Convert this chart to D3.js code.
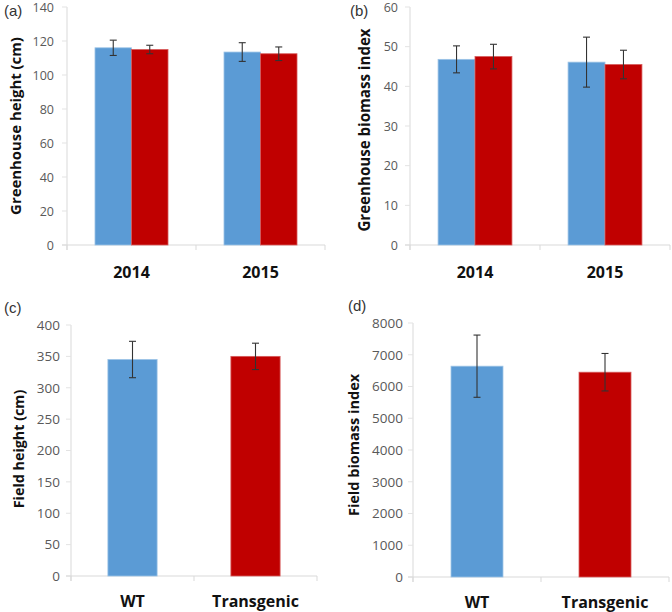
<!DOCTYPE html>
<html>
<head>
<meta charset="utf-8">
<script src="https://cdn.jsdelivr.net/npm/d3@7"></script>
<style>
  html, body { margin: 0; padding: 0; background: #fff; }
  svg { display: block; }
</style>
</head>
<body>
<svg id="chart" width="672" height="612"></svg>
<script>
// ---- Data ----
const years = ["2014", "2015"];
const genotypes = ["WT", "Transgenic"];

const ghHeightWT = [116, 113.5];
const ghHeightWTErr = [4.5, 5.5];
const ghHeightTG = [115, 112.5];
const ghHeightTGErr = [2.5, 4];
const ghHeightTicks = [0, 20, 40, 60, 80, 100, 120, 140];

const ghBiomassWT = [46.8, 46.1];
const ghBiomassWTErr = [3.4, 6.3];
const ghBiomassTG = [47.5, 45.5];
const ghBiomassTGErr = [3.1, 3.6];
const ghBiomassTicks = [0, 10, 20, 30, 40, 50, 60];

const fieldHeight = [345, 350];
const fieldHeightErr = [29, 21];
const fieldHeightTicks = [0, 50, 100, 150, 200, 250, 300, 350, 400];

const fieldBiomass = [6640, 6450];
const fieldBiomassErr = [980, 590];
const fieldBiomassTicks = [0, 1000, 2000, 3000, 4000, 5000, 6000, 7000, 8000];

const colors = { WT: "#5B9BD5", Transgenic: "#C00000" };
const strokes = { WT: "#9CC3E6", Transgenic: "#D65A5A" };

const svg = d3.select("#chart");
const FONT = "'Open Sans', 'DejaVu Sans', sans-serif";

function panel(cfg) {
  const g = svg.append("g");
  const y = d3.scaleLinear().domain([0, cfg.max]).range([cfg.y0, cfg.yTop]);
  const x0 = d3.scaleBand().domain(cfg.cats).range([cfg.xLeft, cfg.xRight]).padding(0);

  // y axis line and ticks
  g.append("line").attr("x1", cfg.xLeft).attr("x2", cfg.xLeft)
    .attr("y1", y(cfg.max)).attr("y2", cfg.y0 + 5)
    .attr("stroke", "#d9d9d9").attr("stroke-width", 1);
  g.selectAll(".yt").data(cfg.ticks).enter().append("line")
    .attr("x1", cfg.xLeft - 5).attr("x2", cfg.xLeft)
    .attr("y1", d => y(d)).attr("y2", d => y(d))
    .attr("stroke", "#e3e3e3").attr("stroke-width", 1);
  // x axis line and ticks
  g.append("line").attr("x1", cfg.xLeft - 5).attr("x2", cfg.xRight)
    .attr("y1", cfg.y0).attr("y2", cfg.y0)
    .attr("stroke", "#d9d9d9").attr("stroke-width", 1);
  const edges = cfg.cats.map(c => x0(c)).concat([cfg.xRight]);
  g.selectAll(".xt").data(edges).enter().append("line")
    .attr("x1", d => d).attr("x2", d => d)
    .attr("y1", cfg.y0).attr("y2", cfg.y0 + 5)
    .attr("stroke", "#d9d9d9");

  // y tick labels
  g.selectAll(".yl").data(cfg.ticks).enter().append("text")
    .attr("x", cfg.xLeft - cfg.labelGap).attr("y", d => y(d))
    .attr("dy", "0.36em").attr("text-anchor", "end")
    .attr("font-family", FONT).attr("font-size", cfg.tickSize).attr("fill", "#595959")
    .text(d => d);

  // bars
  cfg.series.forEach((s) => {
    const x1 = d3.scaleBand().domain(cfg.series.map(d => d.key))
      .range([0, x0.bandwidth()]).paddingInner(0).paddingOuter(cfg.outer || 0);
    const xs = d3.scaleBand().domain(cfg.cats).range([cfg.xLeft, cfg.xRight])
      .paddingInner(cfg.inner || 0).paddingOuter((cfg.inner || 0) / 2);
    cfg.cats.forEach((c, ci) => {
      let bx, bw;
      if (cfg.series.length === 1) {
        bx = xs(c); bw = xs.bandwidth();
      } else {
        bx = x0(c) + x1(s.key); bw = x1.bandwidth();
      }
      const key = cfg.series.length === 1 ? cfg.cats[ci] : s.key;
      const v = s.values[ci], e = s.errs[ci];
      g.append("rect").attr("x", bx).attr("y", y(v))
        .attr("width", bw).attr("height", cfg.y0 - y(v))
        .attr("fill", colors[key]).attr("stroke", strokes[key]).attr("stroke-width", 0.8);
      const cx = bx + bw / 2;
      g.append("line").attr("x1", cx).attr("x2", cx)
        .attr("y1", y(v + e)).attr("y2", y(v - e))
        .attr("stroke", "#333").attr("stroke-width", 1.1);
      [v + e, v - e].forEach(t => {
        g.append("line").attr("x1", cx - 3.5).attr("x2", cx + 3.5)
          .attr("y1", y(t)).attr("y2", y(t))
          .attr("stroke", "#333").attr("stroke-width", 1.1);
      });
    });
  });

  // x category labels
  g.selectAll(".xl").data(cfg.cats).enter().append("text")
    .attr("x", d => x0(d) + x0.bandwidth() / 2).attr("y", cfg.xLabelY)
    .attr("text-anchor", "middle")
    .attr("font-family", FONT).attr("font-size", 16).attr("font-weight", "bold")
    .attr("fill", "#111").text(d => d);

  // y title
  g.append("text")
    .attr("transform", `translate(${cfg.titleX},${cfg.titleY}) rotate(-90)`)
    .attr("text-anchor", "middle")
    .attr("font-family", FONT).attr("font-size", cfg.titleSize).attr("font-weight", "bold")
    .attr("fill", "#111").text(cfg.title);

  // panel label
  g.append("text").attr("x", cfg.tagX).attr("y", cfg.tagY)
    .attr("font-family", "'Liberation Sans', Arial, sans-serif")
    .attr("font-size", 15).attr("fill", "#333").text(cfg.tag);
}

panel({
  tag: "(a)", tagX: 4, tagY: 16,
  cats: years, max: 140, ticks: ghHeightTicks, tickSize: 12.5,
  xLeft: 67, xRight: 325, y0: 245, yTop: 7, labelGap: 13, outer: 0.767,
  series: [
    { key: "WT", values: ghHeightWT, errs: ghHeightWTErr },
    { key: "Transgenic", values: ghHeightTG, errs: ghHeightTGErr }
  ],
  xLabelY: 278, title: "Greenhouse height (cm)", titleSize: 14.9, titleX: 21, titleY: 126
});

panel({
  tag: "(b)", tagX: 350, tagY: 16,
  cats: years, max: 60, ticks: ghBiomassTicks, tickSize: 12.5,
  xLeft: 410, xRight: 670, y0: 245, yTop: 7, labelGap: 12, outer: 0.76,
  series: [
    { key: "WT", values: ghBiomassWT, errs: ghBiomassWTErr },
    { key: "Transgenic", values: ghBiomassTG, errs: ghBiomassTGErr }
  ],
  xLabelY: 278, title: "Greenhouse biomass index", titleSize: 15.1, titleX: 370, titleY: 130
});

panel({
  tag: "(c)", tagX: 4, tagY: 313,
  cats: genotypes, max: 400, ticks: fieldHeightTicks, tickSize: 13.5,
  xLeft: 71, xRight: 317, y0: 576, yTop: 325, labelGap: 11, inner: 0.6,
  series: [ { key: "v", values: fieldHeight, errs: fieldHeightErr } ],
  xLabelY: 607, title: "Field height (cm)", titleSize: 14.3, titleX: 24, titleY: 449
});

panel({
  tag: "(d)", tagX: 348, tagY: 311,
  cats: genotypes, max: 8000, ticks: fieldBiomassTicks, tickSize: 13.5,
  xLeft: 413, xRight: 669, y0: 577, yTop: 323, labelGap: 10, inner: 0.594,
  series: [ { key: "v", values: fieldBiomass, errs: fieldBiomassErr } ],
  xLabelY: 608, title: "Field biomass index", titleSize: 14.5, titleX: 359, titleY: 445
});
</script>
</body>
</html>
